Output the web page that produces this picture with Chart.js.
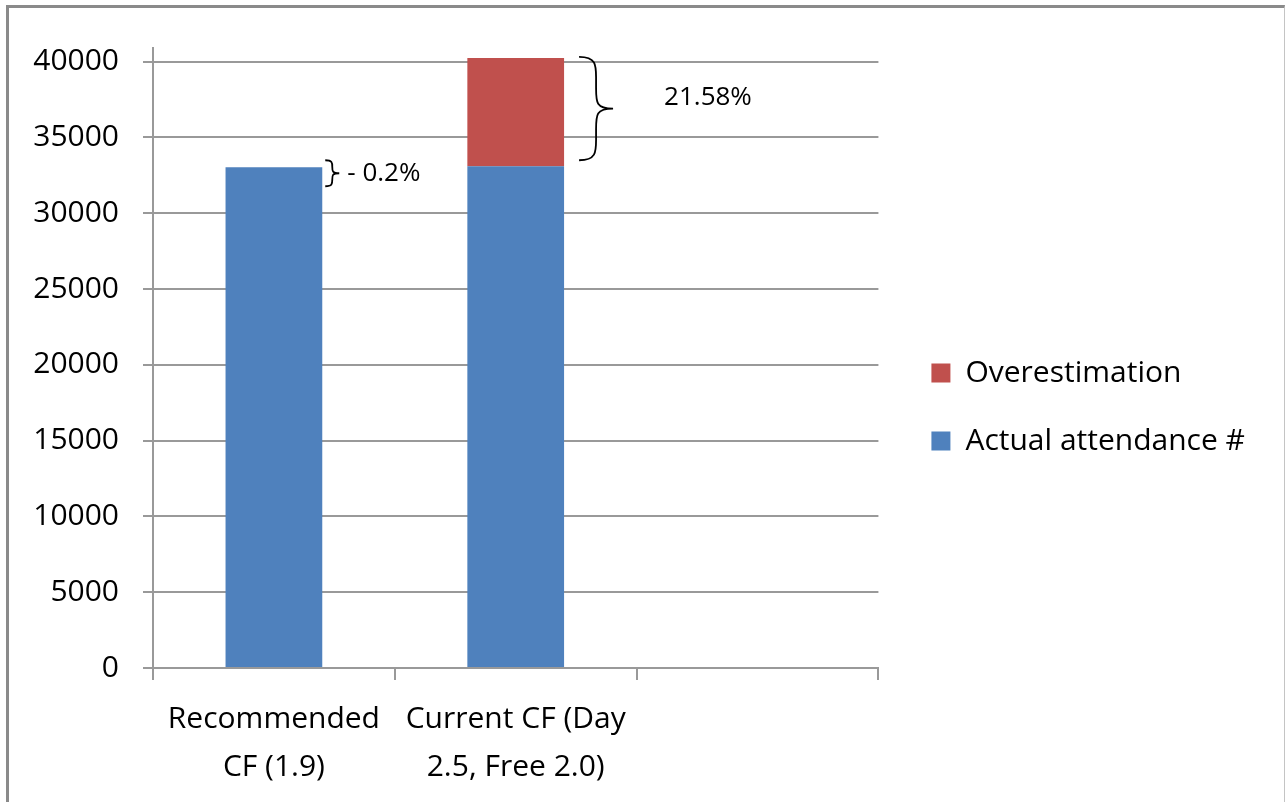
<!DOCTYPE html>
<html>
<head>
<meta charset="utf-8">
<title>Attendance estimate</title>
<script src="https://cdn.jsdelivr.net/npm/chart.js@4/dist/chart.umd.min.js"></script>
<style>
  html, body { margin: 0; padding: 0; background: #fff; }
  #wrap { position: relative; width: 1286px; height: 802px; overflow: hidden; }
  #chart { position: absolute; left: 0; top: 0; }
  #frame {
    position: absolute; left: 6px; top: 5px; width: 1275px; height: 900px;
    border-left: 3px solid #8a8a8a; border-top: 3px solid #8a8a8a; border-right: 1px solid #c4c4c4;
    pointer-events: none;
  }
</style>
</head>
<body>
<div id="wrap">
  <canvas id="chart" width="1286" height="802"></canvas>
  <div id="frame"></div>
</div>
<script>
const categories = [['Recommended', 'CF (1.9)'], ['Current CF (Day', '2.5, Free 2.0)'], ''];
const actualAttendance = [33034, 33100, null];
const overestimation = [null, 7143, null];
const yTickValues = [0, 5000, 10000, 15000, 20000, 25000, 30000, 35000, 40000];
const diffLabels = ['- 0.2%', '21.58%'];

const gridColor = '#999999';
const textColor = '#000000';
const axisFont = { family: 'Open Sans', size: 30, lineHeight: 1.6 };

// curly brace opening to the left, tip pointing right
function drawBrace(ctx, x, y1, y2, d) {
  const m = (y1 + y2) / 2, h = d / 2;
  const r = Math.min(h * 1.2, (m - y1) / 2);
  ctx.beginPath();
  ctx.moveTo(x, y1);
  ctx.bezierCurveTo(x + h, y1, x + h, y1 + r * 0.4, x + h, y1 + r);
  ctx.lineTo(x + h, m - r);
  ctx.bezierCurveTo(x + h, m - r * 0.3, x + h, m, x + d, m);
  ctx.bezierCurveTo(x + h, m, x + h, m + r * 0.3, x + h, m + r);
  ctx.lineTo(x + h, y2 - r);
  ctx.bezierCurveTo(x + h, y2 - r * 0.4, x + h, y2, x, y2);
  ctx.stroke();
}

const braces = {
  id: 'braces',
  afterDatasetsDraw(chart) {
    const ctx = chart.ctx;
    const first = chart.getDatasetMeta(0).data[0];
    const over = chart.getDatasetMeta(1).data[1];
    ctx.save();
    ctx.strokeStyle = '#000';
    ctx.lineWidth = 1.8;
    ctx.fillStyle = textColor;
    ctx.font = '26px "Open Sans"';
    ctx.textAlign = 'left';
    ctx.textBaseline = 'middle';

    const r1 = first.x + first.width / 2;
    drawBrace(ctx, r1 + 3, first.y - 7, first.y + 19, 14);
    ctx.fillText(diffLabels[0], r1 + 25, first.y + 6);

    const r2 = over.x + over.width / 2;
    drawBrace(ctx, r2 + 15, over.y - 1, over.base - 6, 34);
    ctx.fillText(diffLabels[1], r2 + 100, (over.y + over.base) / 2 - 15);
    ctx.restore();
  }
};

// move the legend a little away from the plot and up from the centre
const legendShift = {
  id: 'legendShift',
  afterLayout(chart) {
    const lg = chart.legend;
    const dx = chart.chartArea.right + 15 - lg.left;
    lg.left += dx;
    lg.right += dx;
    lg.top -= 18;
    lg.bottom -= 18;
  }
};

new Chart(document.getElementById('chart'), {
  type: 'bar',
  data: {
    labels: categories,
    datasets: [
      {
        label: 'Actual attendance #',
        data: actualAttendance,
        backgroundColor: '#4F81BD',
        categoryPercentage: 0.5,
        barPercentage: 0.8
      },
      {
        label: 'Overestimation',
        data: overestimation,
        backgroundColor: '#C0504D',
        categoryPercentage: 0.5,
        barPercentage: 0.8
      }
    ]
  },
  options: {
    responsive: false,
    animation: false,
    layout: { padding: { left: 8, top: 48, right: 46, bottom: 0 } },
    scales: {
      x: {
        stacked: true,
        grid: { drawOnChartArea: false, offset: true, tickLength: 12, color: gridColor, lineWidth: 2 },
        border: { color: gridColor, width: 2 },
        ticks: { font: axisFont, color: textColor, padding: 15, maxRotation: 0 },
        afterFit: (scale) => { scale.height = 134; }
      },
      y: {
        stacked: true,
        min: 0,
        max: 40900,
        ticks: { font: axisFont, color: textColor, padding: 24, callback: (v) => String(v) },
        afterBuildTicks: (scale) => {
          scale.ticks = yTickValues.map(v => ({ value: v }));
        },
        grid: { tickLength: 10, color: gridColor, lineWidth: 2 },
        border: { color: gridColor, width: 2 },
        afterFit: (scale) => { scale.width = 145; }
      }
    },
    plugins: {
      legend: {
        position: 'right',
        reverse: true,
        maxWidth: 440,
        labels: {
          font: { family: 'Open Sans', size: 30 },
          color: textColor,
          boxWidth: 19,
          boxHeight: 19,
          padding: 38
        }
      },
      tooltip: { enabled: false }
    }
  },
  plugins: [braces, legendShift]
});
</script>
</body>
</html>
